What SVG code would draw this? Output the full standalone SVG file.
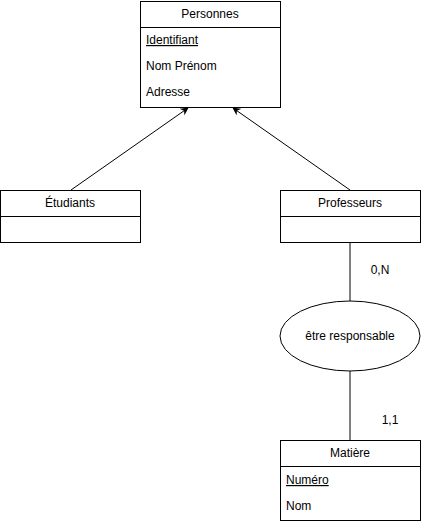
<svg xmlns="http://www.w3.org/2000/svg" width="422" height="523" viewBox="0 0 422 523">
<style>
rect,ellipse{fill:#fff;stroke:#000;stroke-width:1}
line{stroke:#000;stroke-width:1}
text{font-family:"Liberation Sans",Arial,sans-serif;font-size:12px;fill:#000}
.c{text-anchor:middle}
.u{text-decoration:underline}
</style>
<defs>
<marker id="arr" viewBox="0 0 10 10" refX="9" refY="5" markerWidth="8" markerHeight="8" markerUnits="userSpaceOnUse" orient="auto">
<path d="M0,0 L10,5 L0,10 L3,5 Z" fill="#000"/>
</marker>
</defs>
<g id="connectors">
<line x1="71" y1="190" x2="188" y2="108" marker-end="url(#arr)"/>
<line x1="350" y1="190" x2="233" y2="108" marker-end="url(#arr)"/>
<line x1="350" y1="242" x2="350" y2="301"/>
<line x1="350" y1="371" x2="350" y2="440"/>
<text x="380" y="274" class="c">0,N</text>
<text x="390" y="424" class="c">1,1</text>
</g>
<g id="personnes">
<rect x="140.5" y="1.5" width="140" height="106"/>
<line x1="140.5" y1="27.5" x2="280.5" y2="27.5"/>
<text x="210" y="18" class="c">Personnes</text>
<text x="146" y="44" class="u">Identifiant</text>
<text x="146" y="70">Nom Prénom</text>
<text x="146" y="96">Adresse</text>
</g>
<g id="etudiants">
<rect x="0.5" y="190.5" width="140" height="52"/>
<line x1="0.5" y1="216.5" x2="140.5" y2="216.5"/>
<text x="70" y="207" class="c">Étudiants</text>
</g>
<g id="professeurs">
<rect x="280.5" y="190.5" width="140" height="52"/>
<line x1="280.5" y1="216.5" x2="420.5" y2="216.5"/>
<text x="350" y="207" class="c">Professeurs</text>
</g>
<g id="etre-responsable">
<ellipse cx="350" cy="336" rx="70" ry="35"/>
<text x="350" y="340" class="c">être responsable</text>
</g>
<g id="matiere">
<rect x="280.5" y="440.5" width="140" height="80"/>
<line x1="280.5" y1="466.5" x2="420.5" y2="466.5"/>
<text x="350" y="457" class="c">Matière</text>
<text x="286" y="484" class="u">Numéro</text>
<text x="286" y="510">Nom</text>
</g>
</svg>
